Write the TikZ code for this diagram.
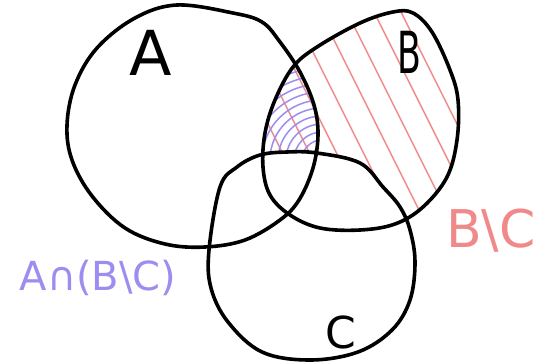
\documentclass[tikz,border=0pt]{standalone}
\usepackage{fontspec}
\setmainfont{DejaVu Sans}
\definecolor{bluec}{RGB}{157,141,241}
\definecolor{redc}{RGB}{240,138,138}
\def\pathA{plot[smooth cycle, tension=0.6] coordinates {(177,5) (233,13) (262,22) (280,42) (300,72) (314,105) (318,135) (313,168) (299,200) (280,220) (245,240) (205,247) (165,244) (125,228) (92,196) (72,160) (67,125) (75,85) (97,48) (135,18)}}
\def\pathB{plot[smooth cycle, tension=0.6] coordinates {(393,12) (413,13) (432,32) (450,70) (458,100) (457,140) (447,177) (423,207) (395,224) (360,230) (320,228) (290,215) (270,195) (263,167) (265,133) (275,100) (293,67) (317,47) (360,23)}}
\def\pathC{plot[smooth cycle, tension=0.6] coordinates {(287,152) (317,153) (360,163) (383,187) (400,207) (410,230) (415,262) (410,300) (392,330) (358,352) (310,360) (262,352) (228,322) (211,288) (209,250) (220,187) (237,167) (260,155)}}
\tikzset{
  outline/.style={draw=black, line width=3.6pt, line join=round},
  redhatch/.style={draw=redc, line width=1.5pt, line cap=round},
  bluehatch/.style={draw=bluec, line width=1.5pt, line cap=round},
  lbl/.style={inner sep=0pt}
}
\begin{document}
\begin{tikzpicture}[x=1pt,y=-1pt]
\useasboundingbox (0,0) rectangle (538,364);
\fill[white] (0,0) rectangle (538,364);
% red hatching: B
\begin{scope}
  \clip \pathB;
  \foreach \i in {206,233,...,422} \draw[redhatch] (\i,0) -- ++(130,260);
\end{scope}
% blue hatching: A cap B
\begin{scope}
  \clip \pathA;
  \clip \pathB;
  \foreach \r in {12,20,...,100} \draw[bluehatch] (322,160) circle (\r pt);
\end{scope}
% remove hatching inside C
\fill[white] \pathC;
% outlines
\draw[outline] \pathA;
\draw[outline] \pathB;
\draw[outline] \pathC;
% labels
\node[lbl, font=\fontsize{62}{62}\selectfont] (la) at (151,53) {A};
\node[lbl, font=\fontsize{58}{58}\selectfont, xscale=0.6] (lb) at (409,52) {B};
\node[lbl, font=\fontsize{44}{44}\selectfont] (lc) at (341,332) {C};
\node[lbl, text=bluec, font=\fontsize{40}{40}\selectfont] (lab) at (98,278) {A∩(B\textbackslash C)};
\node[lbl, text=redc, font=\fontsize{52}{52}\selectfont, anchor=base east] (lbc) at (536,247) {B\textbackslash C};
\end{tikzpicture}
\end{document}
